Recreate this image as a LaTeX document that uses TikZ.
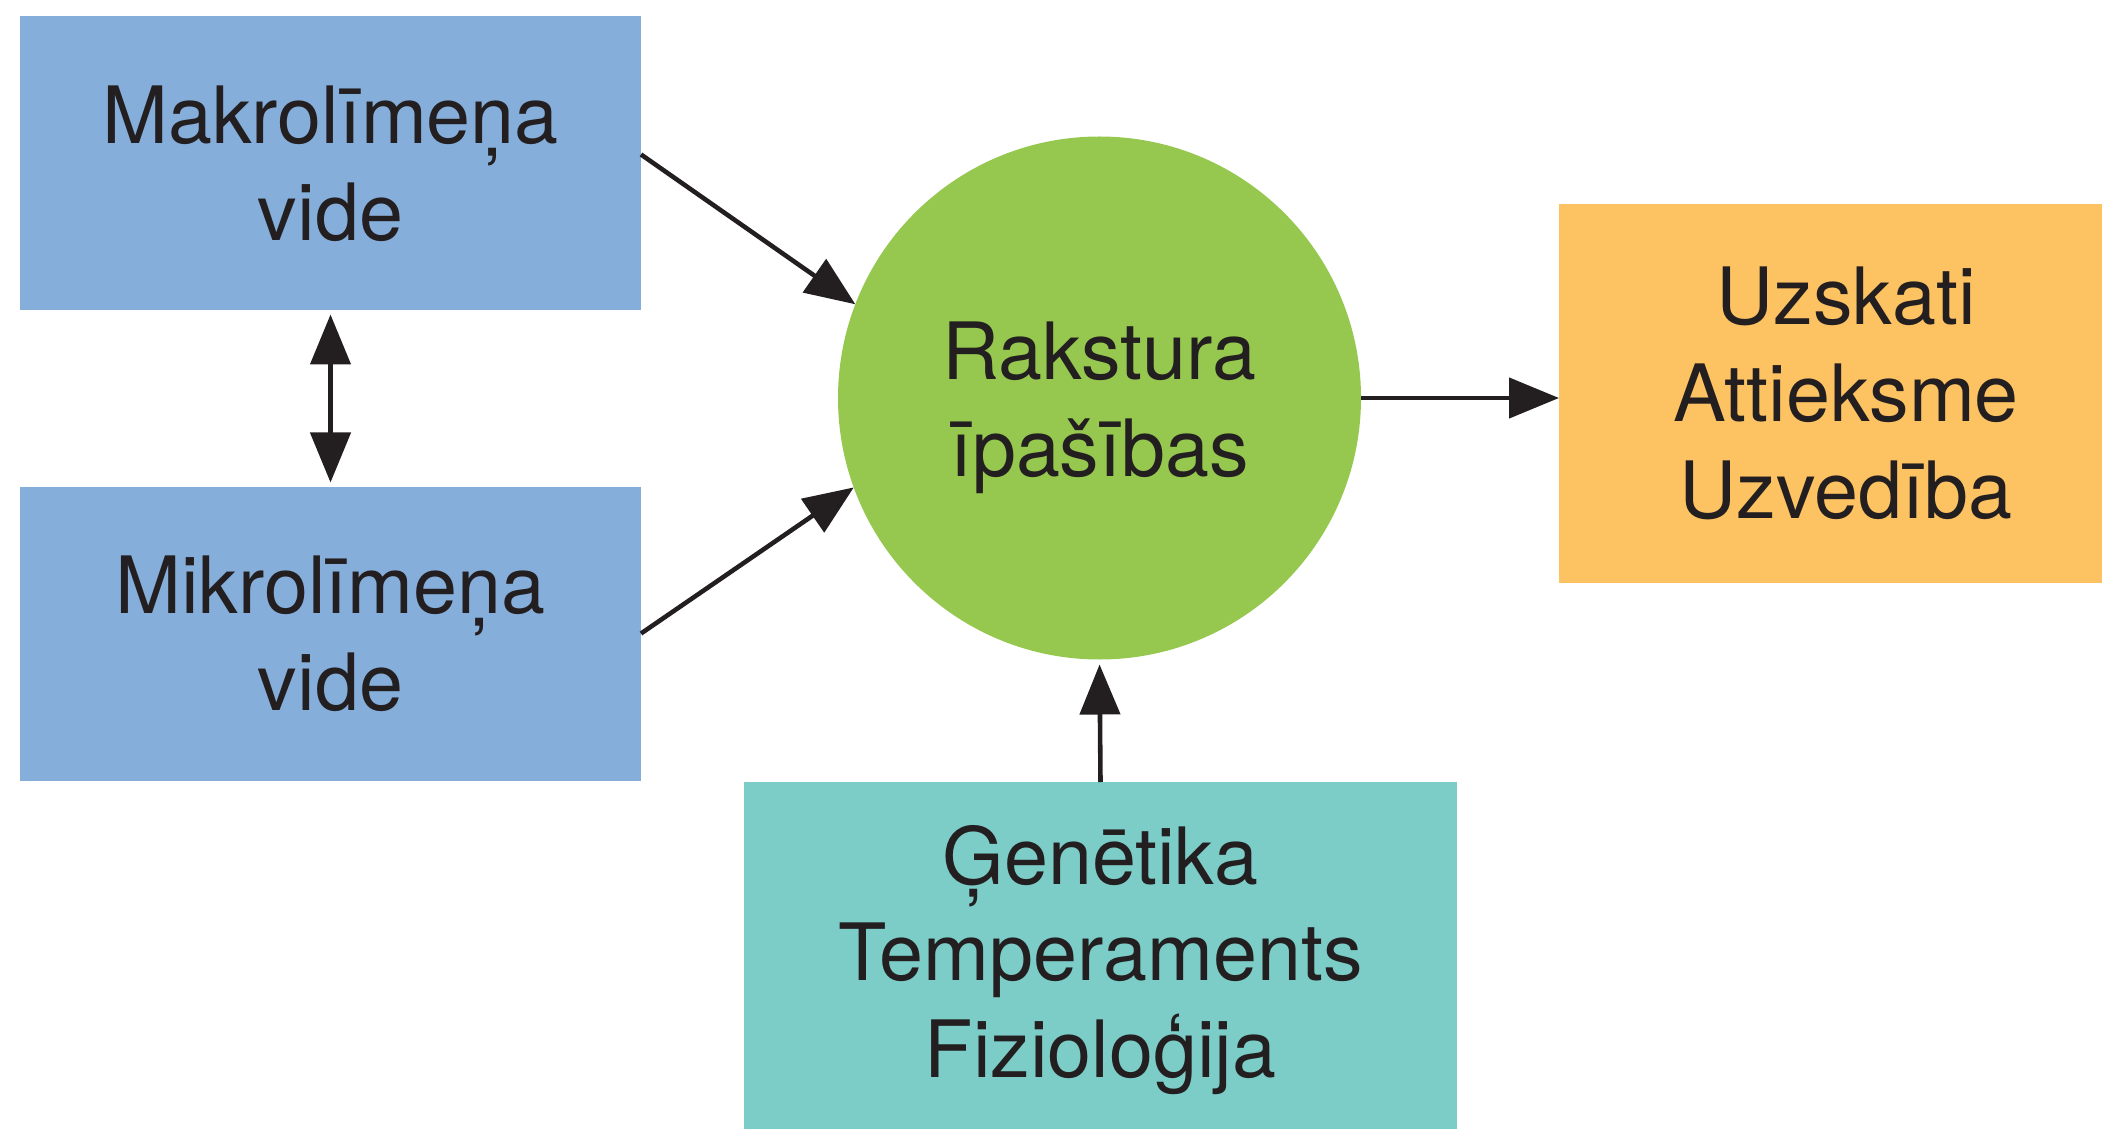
\documentclass[tikz,border=0pt]{standalone}
\usepackage{fontspec}
\setmainfont{TeX Gyre Heros}
\usetikzlibrary{arrows.meta, positioning}
\definecolor{boxblue}{RGB}{134,174,219}
\definecolor{circgreen}{RGB}{150,200,80}
\definecolor{boxorange}{RGB}{253,194,97}
\definecolor{boxteal}{RGB}{124,204,199}
\definecolor{ink}{RGB}{35,31,32}
\tikzset{
>={Triangle[length=0.5cm, width=0.4cm]}, % filled triangle heads
every node/.style={text=ink, align=center, inner sep=0pt, outer sep=0pt,
  font=\fontsize{22.5}{27.5}\selectfont}, % one size of text for all nodes
block/.style={rectangle, minimum width=#1, minimum height=2.94cm}, % the coloured boxes
trait/.style={circle, fill=circgreen, minimum size=5.23cm}, % the middle circle
link/.style={->, draw=ink, line width=1.3pt}, % the connectors
}
\begin{document}
\begin{tikzpicture}
    \useasboundingbox (0,0) rectangle (21.02,11.28);

    \node[block=6.21cm, fill=boxblue] (makro) at (3.305,9.645) {Makrolīmeņa\\vide};
    \node[block=6.21cm, fill=boxblue] (mikro) at (3.305,4.945) {Mikrolīmeņa\\vide};
    \node[trait, label={[yshift=-0.1cm]center:Rakstura\\īpašības}] (rakstura) at (10.995,7.30) {};
    \node[block=5.74cm, fill=boxorange, minimum height=3.79cm] (uzskati) at (18.46,7.345) {Uzskati\\Attieksme\\Uzvedība};
    \node[block=7.13cm, fill=boxteal, minimum height=3.56cm] (genetika) at (11.005,1.68) {Ģenētika\\Temperaments\\Fizioloģija};

    \draw[link] ([yshift=0.09cm]makro.east) -- (rakstura.159);
    \draw[link] (mikro.east) -- (rakstura.200);
    \draw[link, <->, shorten <=0.04cm, shorten >=0.04cm] (makro.south) -- (mikro.north);
    \draw[link] (rakstura.east) -- (rakstura.east -| uzskati.west);
    \draw[link, shorten >=0.05cm] (genetika.north) -- (rakstura.south);

\end{tikzpicture}
\end{document}
